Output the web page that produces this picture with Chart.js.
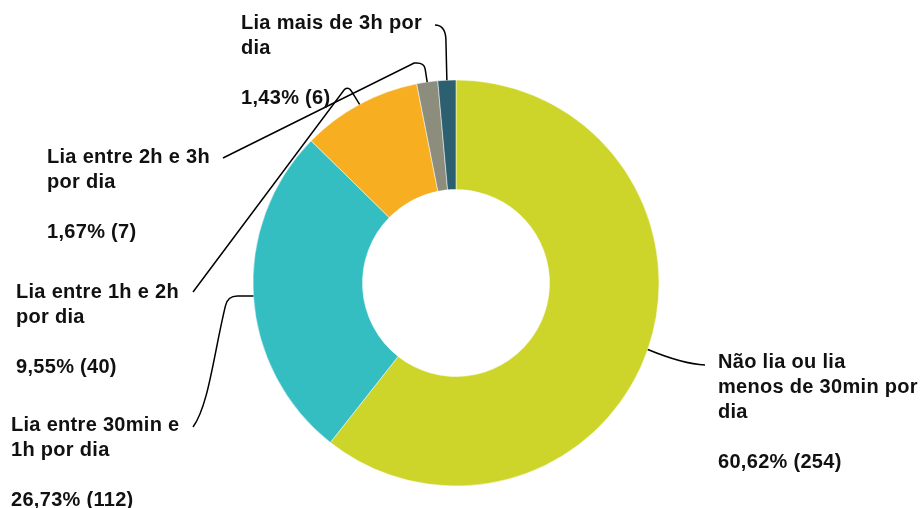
<!DOCTYPE html>
<html>
<head>
<meta charset="utf-8">
<script src="https://cdn.jsdelivr.net/npm/chart.js@4.4.1/dist/chart.umd.min.js"></script>
<style>
  html, body { margin: 0; padding: 0; background: #fff; }
  #wrap { width: 923px; height: 508px; }
</style>
</head>
<body>
<div id="wrap"><canvas id="chart" width="923" height="508"></canvas></div>
<script>
const categories = [
  ["Não lia ou lia", "menos de 30min por", "dia"],
  ["Lia entre 30min e", "1h por dia"],
  ["Lia entre 1h e 2h", "por dia"],
  ["Lia entre 2h e 3h", "por dia"],
  ["Lia mais de 3h por", "dia"]
];
const counts = [254, 112, 40, 7, 6];
const colors = ["#CDD52A", "#35BEC1", "#F7AE21", "#8C8D7D", "#2C6070"];

// where each label block sits (left x, first baseline) and where its leader ends
const labelPos = [
  { x: 718, y: 368, ax: 705, ay: 365 },
  { x: 11, y: 431, ax: 193, ay: 427 },
  { x: 16, y: 298, ax: 193, ay: 292 },
  { x: 47, y: 163, ax: 223, ay: 158 },
  { x: 241, y: 29, ax: 435, ay: 25 }
];

const total = counts.reduce((a, b) => a + b, 0);
const pctText = (v) => (v / total * 100).toFixed(2).replace(".", ",") + "% (" + v + ")";

// leader line from slice edge (sx, sy) to the label anchor
const drawLeader = (ctx, i, sx, sy, p) => {
  ctx.beginPath();
  ctx.moveTo(sx, sy);
  if (i === 0) {
    ctx.quadraticCurveTo(p.ax - 22, p.ay - 1, p.ax, p.ay);
  } else if (i === 1) {
    ctx.lineTo(sx - 16, sy);
    ctx.quadraticCurveTo(sx - 26, sy, sx - 28, sy + 10);
    ctx.bezierCurveTo(sx - 40, sy + 60, sx - 45, sy + 110, p.ax, p.ay);
  } else if (i === 2) {
    ctx.lineTo(sx - 8, sy - 13);
    ctx.quadraticCurveTo(sx - 11, sy - 18, sx - 15, sy - 15);
    ctx.lineTo(p.ax, p.ay);
  } else if (i === 3) {
    ctx.lineTo(sx - 2, sy - 13);
    ctx.quadraticCurveTo(sx - 3, sy - 20, sx - 13, sy - 19);
    ctx.lineTo(p.ax, p.ay);
  } else {
    ctx.lineTo(sx - 1, sy - 42);
    ctx.quadraticCurveTo(sx - 2, sy - 55, p.ax, p.ay);
  }
  ctx.stroke();
};

const labelPlugin = {
  id: "outLabels",
  afterDraw(chart) {
    const ctx = chart.ctx;
    const arcs = chart.getDatasetMeta(0).data;
    ctx.save();
    ctx.strokeStyle = "#000";
    ctx.lineWidth = 1.5;
    ctx.fillStyle = "#111";
    ctx.font = "bold 20px Arial, 'Liberation Sans', sans-serif";
    ctx.letterSpacing = "0.3px";
    ctx.textBaseline = "alphabetic";
    arcs.forEach((arc, i) => {
      const { x, y, startAngle, endAngle, outerRadius } = arc.getProps(["x", "y", "startAngle", "endAngle", "outerRadius"], true);
      const mid = (startAngle + endAngle) / 2;
      const sx = x + Math.cos(mid) * outerRadius;
      const sy = y + Math.sin(mid) * outerRadius;
      const p = labelPos[i];
      drawLeader(ctx, i, sx, sy, p);
      const lines = categories[i];
      lines.forEach((ln, k) => ctx.fillText(ln, p.x, p.y + k * 25));
      ctx.fillText(pctText(counts[i]), p.x, p.y + (lines.length + 1) * 25);
    });
    ctx.restore();
  }
};

new Chart(document.getElementById("chart"), {
  type: "doughnut",
  data: {
    labels: categories,
    datasets: [{
      data: counts,
      backgroundColor: colors,
      borderColor: "#fff",
      borderWidth: 0.5
    }]
  },
  options: {
    responsive: false,
    animation: false,
    radius: 203,
    cutout: 98,
    layout: { padding: { top: 70, bottom: 12, left: 0, right: 11 } },
    plugins: {
      legend: { display: false },
      tooltip: { enabled: false }
    }
  },
  plugins: [labelPlugin]
});
</script>
</body>
</html>
